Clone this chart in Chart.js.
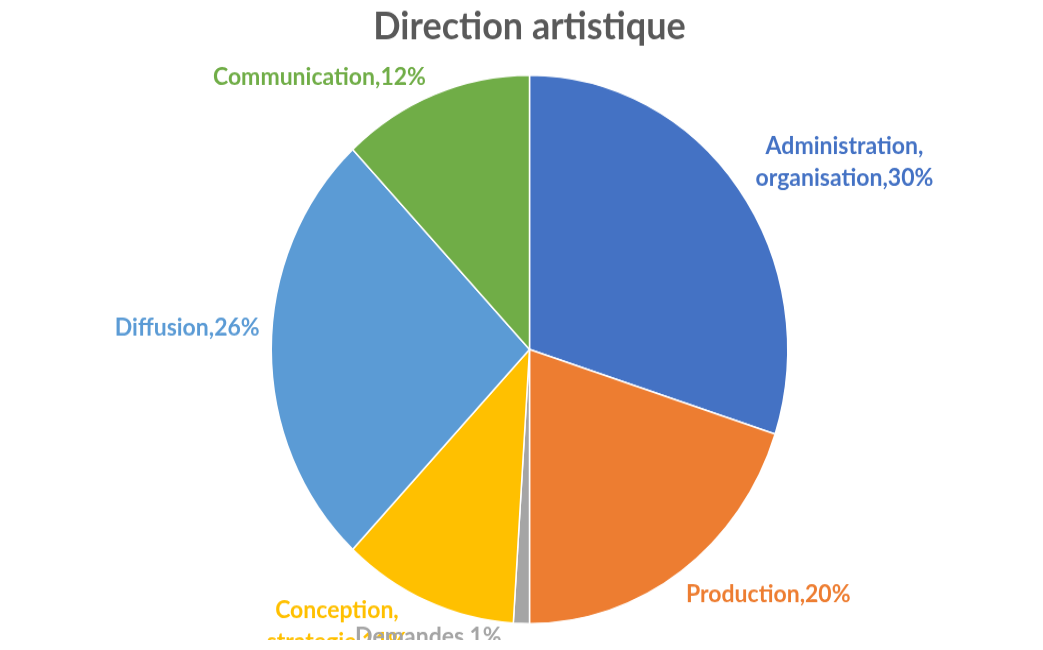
<!DOCTYPE html>
<html>
<head>
<meta charset="utf-8">
<script src="https://cdn.jsdelivr.net/npm/chart.js@4/dist/chart.umd.min.js"></script>
<style>
  html, body { margin: 0; padding: 0; background: #fff; overflow: hidden; }
  #wrap { width: 1043px; height: 640px; transform: scaleY(1.062); transform-origin: 0 0; }
</style>
</head>
<body>
<div id="wrap"><canvas id="myChart" width="1043" height="640"></canvas></div>
<script>
// categories and shares (%)
let categories = ['Administration,\norganisation', 'Production', 'Demandes', 'Conception,\nstrategie', 'Diffusion', 'Communication'];
let valeurs = [30, 20, 1, 11, 26, 12];
let couleurs = ['#4472C4', '#ED7D31', '#A5A5A5', '#FFC000', '#5B9BD5', '#70AD47'];
let titre = 'Direction artistique';

// where each label sits relative to the outer edge of its slice
let decalages = [[106, -25], [87, 22], [-93, 12], [-90, 24], [-84, -20], [-115, -16]];

let policeEtiquette = 'bold 23px Lato';
let interligne = 30;

let etiquettes = {
    id: 'etiquettes',
    afterDatasetsDraw(chart) {
        let ctx = chart.ctx;
        let meta = chart.getDatasetMeta(0);
        ctx.save();
        ctx.font = policeEtiquette;
        ctx.textAlign = 'center';
        ctx.textBaseline = 'middle';
        // reverse order so the small grey label ends up on top
        for (let i = meta.data.length - 1; i >= 0; i--) {
            let arc = meta.data[i];
            let mid = (arc.startAngle + arc.endAngle) / 2;
            let bx = arc.x + Math.cos(mid) * arc.outerRadius + decalages[i][0];
            let by = arc.y + Math.sin(mid) * arc.outerRadius + decalages[i][1];
            let lignes = (categories[i] + ',' + valeurs[i] + '%').split('\n');
            let y0 = by - (lignes.length - 1) * interligne / 2;
            ctx.fillStyle = couleurs[i];
            lignes.forEach(function(l, k) {
                ctx.fillText(l, bx, y0 + k * interligne);
            });
        }
        // title
        ctx.font = 'bold 36px Lato';
        ctx.fillStyle = '#595959';
        ctx.textBaseline = 'alphabetic';
        ctx.fillText(titre, 529.5, 37);
        ctx.restore();
    }
};

let data = {
    labels: categories,
    datasets: [{
        data: valeurs,
        backgroundColor: couleurs,
        borderColor: '#ffffff',
        borderWidth: 1.5
    }]
};

let config = {
    type: 'pie',
    data: data,
    options: {
        responsive: false,
        animation: false,
        layout: { padding: { left: 270, right: 254, top: 70, bottom: 52 } },
        plugins: {
            legend: { display: false },
            title: { display: false },
            tooltip: { enabled: false }
        }
    },
    plugins: [etiquettes]
};

let myChart = new Chart(document.getElementById('myChart'), config);
</script>
</body>
</html>
